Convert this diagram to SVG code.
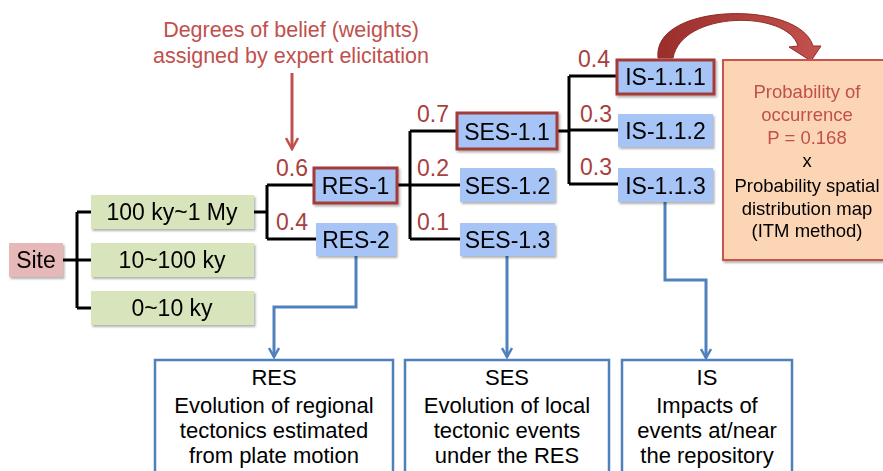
<svg xmlns="http://www.w3.org/2000/svg" width="883" height="471" viewBox="0 0 883 471">
  <style>
    text { font-family: "Liberation Sans", Arial, sans-serif; }
    .lbl { font-size: 23px; fill: #000; text-anchor: middle; }
    .w { font-size: 23px; fill: #a8413d; text-anchor: middle; }
    .note { font-size: 21.5px; fill: #c0504d; text-anchor: middle; }
    .orange { font-size: 18.5px; text-anchor: middle; }
    .desc { font-size: 22px; fill: #000; text-anchor: middle; }
    .site { fill: #e6b8b7; }
    .period { fill: #d8e4bc; }
    .scen { fill: #a7c4f6; }
    .pick { stroke: #a33b37; stroke-width: 3; }
    .tree { fill: none; stroke: #000; stroke-width: 3; }
    .flow { fill: none; stroke: #4f81bd; stroke-width: 3; }
    .cat { fill: #fff; stroke: #4f81bd; stroke-width: 2.5; }
  </style>
  <defs>
    <filter id="shadow" x="-10%" y="-20%" width="130%" height="150%">
      <feDropShadow dx="1.5" dy="2" stdDeviation="1.2" flood-color="#000" flood-opacity="0.3"/>
    </filter>
    <linearGradient id="arcFill" x1="0" y1="0" x2="1" y2="0">
      <stop offset="0" stop-color="#9a2e2b"/>
      <stop offset="1" stop-color="#c4524e"/>
    </linearGradient>
    <marker id="blueHead" viewBox="0 0 12 12" refX="10" refY="6" markerWidth="12" markerHeight="12" markerUnits="userSpaceOnUse" orient="auto">
      <path d="M1 1 L10 6 L1 11" fill="none" stroke="#4f81bd" stroke-width="2.5"/>
    </marker>
    <marker id="redHead" viewBox="0 0 14 14" refX="12" refY="7" markerWidth="14" markerHeight="14" markerUnits="userSpaceOnUse" orient="auto">
      <path d="M1 1 L12 7 L1 13" fill="none" stroke="#c0504d" stroke-width="2.5"/>
    </marker>
  </defs>

  <!-- annotation about the weights -->
  <g id="weights-note">
    <text class="note" x="291" y="37">Degrees of belief (weights)</text>
    <text class="note" x="291" y="63">assigned by expert elicitation</text>
    <line x1="292" y1="73" x2="292" y2="149" stroke="#c0504d" stroke-width="3" marker-end="url(#redHead)"/>
  </g>

  <!-- logic tree branches -->
  <g id="connectors">
    <path class="tree" d="M63 260 H77 M77 212 V308 M77 212 H91 M77 260 H91 M77 308 H91"/>
    <path class="tree" d="M254 212 H267 M267 185 V239 M267 185 H314 M267 239 H316"/>
    <path class="tree" d="M397 185 H410 M410 131 V239 M410 131 H457 M410 185 H460 M410 239 H460"/>
    <path class="tree" d="M557 131 H569 M569 76 V184 M569 76 H617 M569 130 H618 M569 184 H618"/>
    <path class="flow" d="M356 256 V307 H274 V357" marker-end="url(#blueHead)"/>
    <path class="flow" d="M507 256 V357" marker-end="url(#blueHead)"/>
    <path class="flow" d="M665 202 V280 H706 V358" marker-end="url(#blueHead)"/>
    <path id="occurrence-arc" d="M658 58 C652 2 800 0 813 46 L821 46 L811 61 L789 47 L798 46 C788 10 682 10 673 58 Z" fill="url(#arcFill)" stroke="#8f2c29" stroke-width="1"/>
  </g>

  <!-- weights -->
  <g id="weight-labels">
    <text class="w" x="292" y="176">0.6</text>
    <text class="w" x="292" y="230">0.4</text>
    <text class="w" x="433" y="122">0.7</text>
    <text class="w" x="433" y="176">0.2</text>
    <text class="w" x="433" y="230">0.1</text>
    <text class="w" x="594" y="67">0.4</text>
    <text class="w" x="596" y="122">0.3</text>
    <text class="w" x="596" y="175">0.3</text>
  </g>

  <g id="site" filter="url(#shadow)">
    <rect class="site" x="9" y="243" width="54" height="34"/>
    <text class="lbl" x="36" y="268">Site</text>
  </g>

  <g id="period-1" filter="url(#shadow)">
    <rect class="period" x="91" y="195" width="163" height="34"/>
    <text class="lbl" x="172" y="220">100 ky~1 My</text>
  </g>
  <g id="period-2" filter="url(#shadow)">
    <rect class="period" x="91" y="243" width="163" height="34"/>
    <text class="lbl" x="172" y="268">10~100 ky</text>
  </g>
  <g id="period-3" filter="url(#shadow)">
    <rect class="period" x="91" y="291" width="163" height="34"/>
    <text class="lbl" x="172" y="316">0~10 ky</text>
  </g>

  <g id="res-1" filter="url(#shadow)">
    <rect class="scen pick" x="314" y="168" width="83" height="35"/>
    <text class="lbl" x="355.5" y="193.5">RES-1</text>
  </g>
  <g id="res-2" filter="url(#shadow)">
    <rect class="scen" x="316" y="223" width="80" height="33"/>
    <text class="lbl" x="356" y="247.5">RES-2</text>
  </g>

  <g id="ses-1-1" filter="url(#shadow)">
    <rect class="scen pick" x="457" y="113" width="100" height="36"/>
    <text class="lbl" x="507" y="139.5">SES-1.1</text>
  </g>
  <g id="ses-1-2" filter="url(#shadow)">
    <rect class="scen" x="460" y="168" width="95" height="34"/>
    <text class="lbl" x="507.5" y="193.5">SES-1.2</text>
  </g>
  <g id="ses-1-3" filter="url(#shadow)">
    <rect class="scen" x="460" y="223" width="95" height="33"/>
    <text class="lbl" x="507.5" y="247.5">SES-1.3</text>
  </g>

  <g id="is-1-1-1" filter="url(#shadow)">
    <rect class="scen pick" x="617" y="60" width="97" height="34"/>
    <text class="lbl" x="665.5" y="85">IS-1.1.1</text>
  </g>
  <g id="is-1-1-2" filter="url(#shadow)">
    <rect class="scen" x="618" y="114" width="95" height="33"/>
    <text class="lbl" x="665.5" y="138.5">IS-1.1.2</text>
  </g>
  <g id="is-1-1-3" filter="url(#shadow)">
    <rect class="scen" x="618" y="168" width="95" height="34"/>
    <text class="lbl" x="665.5" y="193.5">IS-1.1.3</text>
  </g>

  <g id="probability" filter="url(#shadow)">
    <rect x="723" y="60" width="170" height="200" fill="#fcd5b4" stroke="#c9534e" stroke-width="2"/>
    <text class="orange" fill="#c0504d" x="807" y="98">Probability of</text>
    <text class="orange" fill="#c0504d" x="807" y="121">occurrence</text>
    <text class="orange" fill="#c0504d" x="807" y="144">P = 0.168</text>
    <text class="orange" fill="#000" x="807" y="167">x</text>
    <text class="orange" fill="#000" x="807" y="192">Probability spatial</text>
    <text class="orange" fill="#000" x="807" y="215">distribution map</text>
    <text class="orange" fill="#000" x="807" y="237">(ITM method)</text>
  </g>

  <g id="res-info">
    <rect class="cat" x="155" y="360" width="238" height="130"/>
    <text class="desc" x="274" y="385">RES</text>
    <text class="desc" x="274" y="413">Evolution of regional</text>
    <text class="desc" x="274" y="438">tectonics estimated</text>
    <text class="desc" x="274" y="463">from plate motion</text>
  </g>
  <g id="ses-info">
    <rect class="cat" x="405" y="360" width="204" height="130"/>
    <text class="desc" x="507" y="385">SES</text>
    <text class="desc" x="507" y="413">Evolution of local</text>
    <text class="desc" x="507" y="438">tectonic events</text>
    <text class="desc" x="507" y="463">under the RES</text>
  </g>
  <g id="is-info">
    <rect class="cat" x="622" y="360" width="170" height="130"/>
    <text class="desc" x="707" y="385">IS</text>
    <text class="desc" x="707" y="413">Impacts of</text>
    <text class="desc" x="707" y="438">events at/near</text>
    <text class="desc" x="707" y="463">the repository</text>
  </g>
</svg>
